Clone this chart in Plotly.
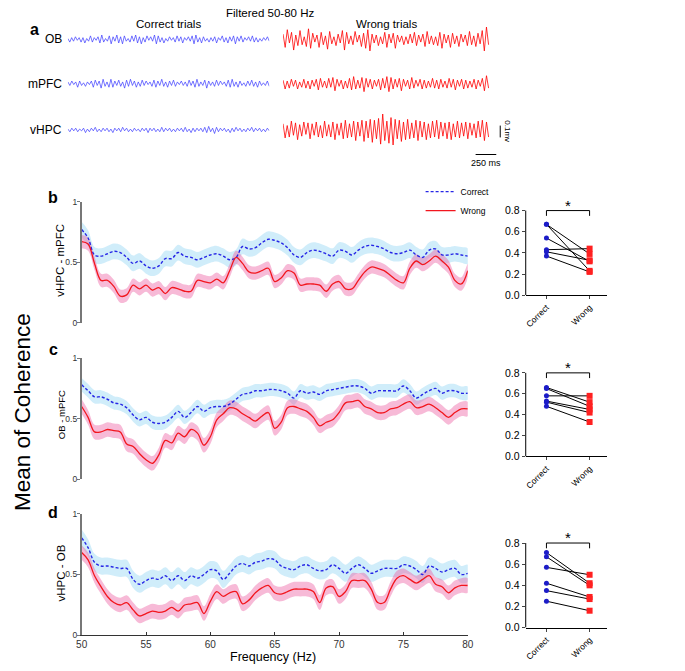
import numpy as np
import plotly.graph_objects as go

W, H = 685, 671
FONT = "Liberation Sans, Arial, sans-serif"

# ---------------- Panel a : filtered traces (units of 7.5 µV) ----------------
TRACE_UNIT_MV = 0.0075
TRACE_DUR_MS = 2440
CORRECT_OB = [1,-3,2,-2,3,-1,2,-3,2,-4,1,-2,4,-3,2,-1,3,-4,5,-3,1,-2,4,-5,3,-2,5,-4,3,-5,4,-2,1,-3,4,-2,5,-4,3,-5,2,-3,4,-1,3,-2,5,-5,4,-3,2,-4,1,-2,3,-1,2,-3,4,-2,3,-4,2,-1,3,-2,4,-5,5,-3,2,-4,3,-2,1,-3,2,-2,3,-4,2,-1,4,-3,2,-4,3,-2,4,-5,3,-2,4,-3,2,-1,3,-2,4,-3,2,-3,1,-2,2,-1,3,-2]
CORRECT_MPFC = [2,-2,3,-1,2,-4,3,-2,1,-3,2,-1,3,-4,4,-2,3,-5,5,-3,2,-4,5,-4,3,-2,4,-3,2,-5,4,-3,5,-2,3,-4,2,-3,4,-2,3,-1,2,-3,4,-4,3,-2,5,-3,2,-4,3,-2,4,-3,2,-1,3,-2,2,-3,4,-2,3,-4,5,-3,2,-2,4,-5,3,-2,2,-3,4,-2,3,-1,2,-3,4,-4,5,-3,2,-4,3,-2,1,-3,3,-2,4,-3,2,-4,3,-2,1,-2,3,-3]
CORRECT_VHPC = [1,-2,2,-1,2,-2,1,-1,2,-3,1,-2,2,-1,3,-2,1,-2,2,-1,2,-2,1,-3,2,-1,2,-2,3,-1,2,-2,1,-2,2,-1,1,-2,2,-1,2,-3,2,-1,2,-2,1,-2,3,-2,2,-1,2,-2,1,-2,2,-1,2,-2,3,-2,1,-3,2,-2,2,-1,2,-2,3,-3,4,-2,2,-4,3,-2,2,-1,2,-2,1,-3,2,-2,3,-1,2,-2,1,-2,2,-1,3,-2,2,-1,2,-2,1,-2,2,-1]
WRONG_OB = [6,-9,11,-4,8,-12,5,-7,10,-6,3,-8,12,-10,7,-3,5,-9,8,-6,4,-11,9,-5,3,-7,6,-4,10,-12,8,-5,4,-6,9,-3,5,-8,7,-10,11,-13,6,-4,5,-7,3,-5,8,-9,6,-4,7,-10,5,-3,4,-6,3,-5,6,-4,8,-7,5,-3,6,-8,9,-5,4,-6,3,-7,8,-10,6,-4,5,-9,7,-5,4,-8,6,-3,5,-7,9,-6,4,-8,7,-5,10,-13,14,-6]
WRONG_MPFC = [4,-6,3,-5,5,-3,4,-6,2,-4,5,-5,3,-6,4,-3,5,-7,6,-4,3,-5,6,-4,7,-8,5,-3,4,-6,3,-5,6,-7,8,-6,4,-5,7,-9,6,-4,5,-6,4,-3,5,-7,6,-5,8,-9,7,-6,5,-4,6,-8,5,-3,4,-6,7,-5,4,-3,5,-6,4,-5,3,-4,6,-5,4,-6,5,-4,3,-5,6,-4,5,-7,4,-3,5,-6,4,-5,3,-4,5,-6,4,-3,6,-8,9,-5]
WRONG_VHPC = [7,-9,5,-8,10,-6,8,-11,6,-7,9,-5,8,-10,7,-6,9,-8,5,-9,10,-7,6,-8,9,-11,7,-6,8,-10,11,-9,7,-8,10,-12,9,-7,11,-13,10,-9,12,-14,11,-10,13,-16,18,-12,10,-15,14,-17,12,-10,11,-13,9,-11,12,-10,8,-9,11,-12,10,-8,9,-11,7,-9,10,-8,11,-10,9,-7,8,-10,9,-11,7,-8,10,-9,8,-7,9,-10,8,-6,7,-9,10,-8,11,-12,9,-8]
REGIONS = ["OB", "mPFC", "vHPC"]
ROW_OFFSET_MV = [0.0, -0.375, -0.767]

# ---------------- Panels b-d : coherence 50-80 Hz (0.5 Hz steps) ----------------
FREQ = np.arange(50, 80.001, 0.5)
B_CORRECT = [0.77,0.70,0.56,0.55,0.57,0.59,0.58,0.54,0.49,0.51,0.47,0.45,0.47,0.53,0.53,0.58,0.55,0.54,0.52,0.54,
             0.56,0.57,0.55,0.52,0.54,0.63,0.61,0.62,0.66,0.69,0.68,0.66,0.62,0.56,0.54,0.58,0.60,0.59,0.57,0.55,
             0.60,0.59,0.56,0.60,0.63,0.64,0.63,0.61,0.58,0.57,0.58,0.60,0.56,0.54,0.60,0.61,0.56,0.56,0.57,0.56,0.55]
B_WRONG = [0.67,0.65,0.49,0.35,0.35,0.30,0.22,0.23,0.31,0.28,0.31,0.27,0.29,0.24,0.29,0.28,0.26,0.26,0.35,0.34,
           0.33,0.36,0.33,0.43,0.54,0.49,0.42,0.41,0.43,0.45,0.34,0.37,0.43,0.41,0.31,0.32,0.32,0.31,0.26,0.32,
           0.34,0.28,0.28,0.35,0.42,0.46,0.45,0.43,0.39,0.35,0.33,0.45,0.51,0.48,0.51,0.55,0.51,0.46,0.35,0.32,0.43]
C_CORRECT = [0.78,0.73,0.68,0.68,0.66,0.63,0.62,0.59,0.53,0.49,0.51,0.47,0.46,0.47,0.51,0.56,0.51,0.55,0.60,0.56,
             0.59,0.60,0.60,0.62,0.66,0.70,0.71,0.73,0.73,0.74,0.74,0.73,0.71,0.67,0.73,0.71,0.72,0.70,0.73,0.74,
             0.75,0.76,0.77,0.77,0.75,0.71,0.73,0.73,0.73,0.73,0.77,0.73,0.67,0.70,0.73,0.75,0.71,0.73,0.73,0.71,0.71]
C_WRONG = [0.60,0.51,0.39,0.39,0.41,0.40,0.39,0.29,0.27,0.21,0.16,0.13,0.20,0.32,0.30,0.38,0.35,0.41,0.38,0.28,
           0.35,0.49,0.54,0.59,0.58,0.54,0.51,0.48,0.52,0.55,0.42,0.47,0.59,0.60,0.58,0.56,0.51,0.44,0.47,0.49,
           0.55,0.63,0.64,0.65,0.60,0.58,0.55,0.55,0.58,0.59,0.62,0.64,0.59,0.60,0.62,0.59,0.55,0.51,0.55,0.58,0.58]
D_CORRECT = [0.80,0.72,0.60,0.57,0.57,0.56,0.55,0.55,0.46,0.42,0.45,0.47,0.46,0.49,0.45,0.49,0.45,0.49,0.47,0.50,
             0.54,0.53,0.46,0.51,0.57,0.59,0.57,0.60,0.61,0.63,0.62,0.57,0.55,0.54,0.57,0.58,0.55,0.53,0.54,0.58,
             0.55,0.51,0.55,0.58,0.55,0.51,0.53,0.55,0.55,0.55,0.58,0.57,0.54,0.50,0.57,0.55,0.52,0.54,0.55,0.50,0.51]
D_WRONG = [0.68,0.62,0.49,0.40,0.32,0.27,0.25,0.27,0.21,0.16,0.18,0.20,0.19,0.20,0.23,0.20,0.25,0.26,0.27,0.18,
           0.28,0.36,0.32,0.35,0.36,0.26,0.29,0.35,0.39,0.41,0.35,0.34,0.36,0.38,0.38,0.38,0.36,0.27,0.39,0.40,
           0.32,0.36,0.45,0.45,0.45,0.38,0.27,0.27,0.38,0.47,0.49,0.46,0.43,0.46,0.49,0.42,0.40,0.35,0.39,0.41,0.41]
SEM = {"b": (0.065, 0.055), "c": (0.055, 0.06), "d": (0.07, 0.06)}
PAIR_NAMES = ["vHPC - mPFC", "OB - mPFC", "vHPC - OB"]

# ---------------- Right insets: per-animal mean coherence ----------------
GROUPS = ["Correct", "Wrong"]
B_PAIRS_CORRECT = [0.67, 0.67, 0.54, 0.43, 0.41, 0.37]
B_PAIRS_WRONG = [0.23, 0.39, 0.32, 0.44, 0.33, 0.22]
C_PAIRS_CORRECT = [0.66, 0.65, 0.58, 0.53, 0.52, 0.48]
C_PAIRS_WRONG = [0.52, 0.48, 0.58, 0.45, 0.42, 0.33]
D_PAIRS_CORRECT = [0.71, 0.67, 0.57, 0.42, 0.35, 0.25]
D_PAIRS_WRONG = [0.42, 0.40, 0.50, 0.29, 0.27, 0.16]

BLUE = "#2626e6"
RED = "#f2161e"
BLUE_BAND = "rgba(150,215,245,0.45)"
RED_BAND = "rgba(235,90,160,0.42)"

def py(p):
    return 1 - p / H

def px(p):
    return p / W

def ann(**kw):
    d = dict(showarrow=False, xanchor="center", yanchor="middle")
    d.update(kw)
    return d

fig = go.Figure()
layout = dict(width=W, height=H, autosize=False, margin=dict(l=0, r=0, t=0, b=0, pad=0),
              paper_bgcolor="white", plot_bgcolor="white",
              font=dict(family=FONT, size=10, color="black"))

hidden = dict(visible=False, showgrid=False, zeroline=False)

# ---- panel a
layout["xaxis"] = dict(domain=[px(63), px(268)], range=[0, TRACE_DUR_MS], anchor="y", **hidden)
layout["yaxis"] = dict(domain=[py(161), py(20)], range=[-1.05, 0.125], anchor="x", **hidden)
layout["xaxis2"] = dict(domain=[px(282), px(520)], range=[0, 2833], anchor="y2", **hidden)
layout["yaxis2"] = dict(domain=[py(161), py(20)], range=[-1.05, 0.125], anchor="x2", **hidden)

for vals, off in zip([CORRECT_OB, CORRECT_MPFC, CORRECT_VHPC], ROW_OFFSET_MV):
    v = np.array(vals) * TRACE_UNIT_MV
    t = np.arange(len(v)) * TRACE_DUR_MS / (len(v) - 1)
    fig.add_trace(go.Scatter(x=t, y=v + off, mode="lines", line=dict(color="#3a3aff", width=0.7),
                             showlegend=False, hoverinfo="skip", xaxis="x", yaxis="y"))
for vals, off in zip([WRONG_OB, WRONG_MPFC, WRONG_VHPC], ROW_OFFSET_MV):
    v = np.array(vals) * TRACE_UNIT_MV
    t = np.arange(len(v)) * 2490 / (len(v) - 1)
    fig.add_trace(go.Scatter(x=t, y=v + off, mode="lines", line=dict(color="#ff0000", width=0.8),
                             showlegend=False, hoverinfo="skip", xaxis="x2", yaxis="y2"))

shapes = []
annotations = []
# scale bars (250 ms, 0.1 mV)
SB_T0, SB_Y0 = 2333, -0.975
shapes.append(dict(type="line", xref="x2", yref="y2", x0=SB_T0, x1=SB_T0 + 250, y0=SB_Y0, y1=SB_Y0,
                   line=dict(color="black", width=1)))
shapes.append(dict(type="line", xref="x2", yref="y2", x0=2631, x1=2631, y0=-0.83, y1=-0.73,
                   line=dict(color="black", width=1)))
annotations.append(ann(x=SB_T0 + 125, y=SB_Y0, xref="x2", yref="y2", text="250 ms",
                       yanchor="top", yshift=-1, font=dict(size=9)))
annotations.append(ann(x=2631, y=-0.78, xref="x2", yref="y2", text="0.1mv",
                       textangle=90, xshift=7, font=dict(size=8)))
for name, off in zip(REGIONS, ROW_OFFSET_MV):
    annotations.append(ann(x=0, y=off, xref="x", yref="y", text=name,
                           xanchor="right", xshift=-4, font=dict(size=12)))
annotations += [
    ann(x=px(269), y=py(8), xref="paper", yref="paper", text="Filtered 50-80 Hz", font=dict(size=11.5)),
    ann(x=px(165), y=py(19), xref="paper", yref="paper", text="Correct trials", font=dict(size=11.5)),
    ann(x=px(387), y=py(19), xref="paper", yref="paper", text="Wrong trials", font=dict(size=11.5)),
    ann(x=px(29), y=py(25), xref="paper", yref="paper", text="<b>a</b>", font=dict(size=16)),
]

# ---- panels b-d main: (letter, correct, wrong, y px of 1 and 0, letter y, title x, title y, title size)
main_rows = [("b", B_CORRECT, B_WRONG, (200, 323), 196, 55, 260, 11.5),
             ("c", C_CORRECT, C_WRONG, (359, 482), 350, 56, 417, 9.5),
             ("d", D_CORRECT, D_WRONG, (517, 641), 516, 55, 578, 11.5)]
for i, (lab, corr, wrong, (ytop, ybot), ylab, tx, ty, tsize) in enumerate(main_rows):
    n = 3 + i
    xa, ya = f"x{n}", f"y{n}"
    is_last = lab == "d"
    xa_dict = dict(domain=[px(77), px(470)], range=[50, 80], anchor=ya, showgrid=False, zeroline=False)
    if is_last:
        xa_dict.update(showline=True, linecolor="#333", linewidth=1, ticks="inside", ticklen=3,
                       tickcolor="#333", tickvals=[50, 55, 60, 65, 70, 75, 80],
                       tickfont=dict(size=10, color="#333"))
    else:
        xa_dict.update(visible=False)
    layout[f"xaxis{n}"] = xa_dict
    layout[f"yaxis{n}"] = dict(domain=[py(ybot), py(ytop)], range=[0, 1], anchor=xa, showgrid=False,
                               zeroline=False, showline=True, linecolor="#777", linewidth=1.5,
                               ticks="outside", ticklen=3, tickcolor="#777", tickvals=[0, 0.5, 1],
                               ticktext=["0", "0.5", "1"], tickfont=dict(size=8.5, color="#333"),
                               ticklabelstandoff=-2)
    sc, sw = SEM[lab]
    c = np.array(corr); w = np.array(wrong)
    for mean, sem, band in [(c, sc, BLUE_BAND), (w, sw, RED_BAND)]:
        fig.add_trace(go.Scatter(x=np.concatenate([FREQ, FREQ[::-1]]),
                                 y=np.concatenate([mean + sem, (mean - sem)[::-1]]),
                                 fill="toself", fillcolor=band, line=dict(width=0, shape="spline"),
                                 mode="lines", showlegend=False, hoverinfo="skip", xaxis=xa, yaxis=ya))
    fig.add_trace(go.Scatter(x=FREQ, y=c, mode="lines", name="Correct",
                             line=dict(color=BLUE, width=1.4, dash="3px,2px", shape="spline"),
                             showlegend=(lab == "b"), xaxis=xa, yaxis=ya))
    fig.add_trace(go.Scatter(x=FREQ, y=w, mode="lines", name="Wrong",
                             line=dict(color=RED, width=1.3, shape="spline"),
                             showlegend=(lab == "b"), xaxis=xa, yaxis=ya))
    annotations.append(ann(x=px(48), y=py(ylab), xref="paper", yref="paper", text=f"<b>{lab}</b>",
                           font=dict(size=16)))
    annotations.append(ann(x=px(tx), y=py(ty), xref="paper", yref="paper",
                           text=PAIR_NAMES[i], textangle=-90, font=dict(size=tsize)))

annotations.append(ann(x=px(16), y=py(414), xref="paper", yref="paper", text="Mean of Coherence",
                       textangle=-90, font=dict(size=22.5)))
annotations.append(ann(x=px(272), y=py(663), xref="paper", yref="paper", text="Frequency (Hz)",
                       font=dict(size=12.5)))

# ---- right insets
insets = [(B_PAIRS_CORRECT, B_PAIRS_WRONG, (209, 295)),
          (C_PAIRS_CORRECT, C_PAIRS_WRONG, (374, 459)),
          (D_PAIRS_CORRECT, D_PAIRS_WRONG, (547, 633))]
for i, (pc, pw, (y08, y0)) in enumerate(insets):
    n = 6 + i
    xa, ya = f"x{n}", f"y{n}"
    top = y0 - (y0 - y08) * 0.9 / 0.8
    layout[f"xaxis{n}"] = dict(domain=[px(529), px(612)], range=[-0.48, 1.41], anchor=ya, showgrid=False,
                               zeroline=False, showline=True, linecolor="black", linewidth=1,
                               ticks="outside", ticklen=3, tickvals=[0, 1], ticktext=GROUPS,
                               tickangle=-45, tickfont=dict(size=8.5))
    layout[f"yaxis{n}"] = dict(domain=[py(y0), py(top)], range=[0, 0.9], anchor=xa, showgrid=False,
                               zeroline=False, showline=False, ticks="outside", ticklen=3,
                               tickvals=[0, 0.2, 0.4, 0.6, 0.8], ticktext=["0.0", "0.2", "0.4", "0.6", "0.8"],
                               tickfont=dict(size=10.5))
    shapes.append(dict(type="line", xref=f"{xa} domain", yref=ya, x0=0, x1=0, y0=0, y1=0.8,
                       line=dict(color="black", width=1)))
    lx, ly = [], []
    for a, b in zip(pc, pw):
        lx += [0, 1, None]; ly += [a, b, None]
    fig.add_trace(go.Scatter(x=lx, y=ly, mode="lines", line=dict(color="black", width=1),
                             showlegend=False, hoverinfo="skip", xaxis=xa, yaxis=ya))
    fig.add_trace(go.Scatter(x=[0] * len(pc), y=pc, mode="markers", marker=dict(color="#1c1cc8", size=5),
                             showlegend=False, xaxis=xa, yaxis=ya, cliponaxis=False))
    fig.add_trace(go.Scatter(x=[1] * len(pw), y=pw, mode="markers",
                             marker=dict(color="#ff2020", size=6, symbol="square"),
                             showlegend=False, xaxis=xa, yaxis=ya, cliponaxis=False))
    shapes.append(dict(type="path", xref=xa, yref=ya, path="M 0,0.75 L 0,0.8 L 1,0.8 L 1,0.75",
                       line=dict(color="black", width=1)))
    annotations.append(ann(x=0.5, y=0.8, xref=xa, yref=ya, text="*", yanchor="bottom",
                           yshift=-5, font=dict(size=15)))

layout["shapes"] = shapes
layout["annotations"] = annotations
layout["legend"] = dict(x=px(422), y=py(175), xanchor="left", yanchor="top", bgcolor="rgba(0,0,0,0)",
                        font=dict(size=8.5), itemwidth=30, tracegroupgap=0)
fig.update_layout(**layout)
fig.write_html("out.html", config={"displayModeBar": False},
               post_script="document.body.style.margin='0px';document.body.style.overflow='hidden';")
